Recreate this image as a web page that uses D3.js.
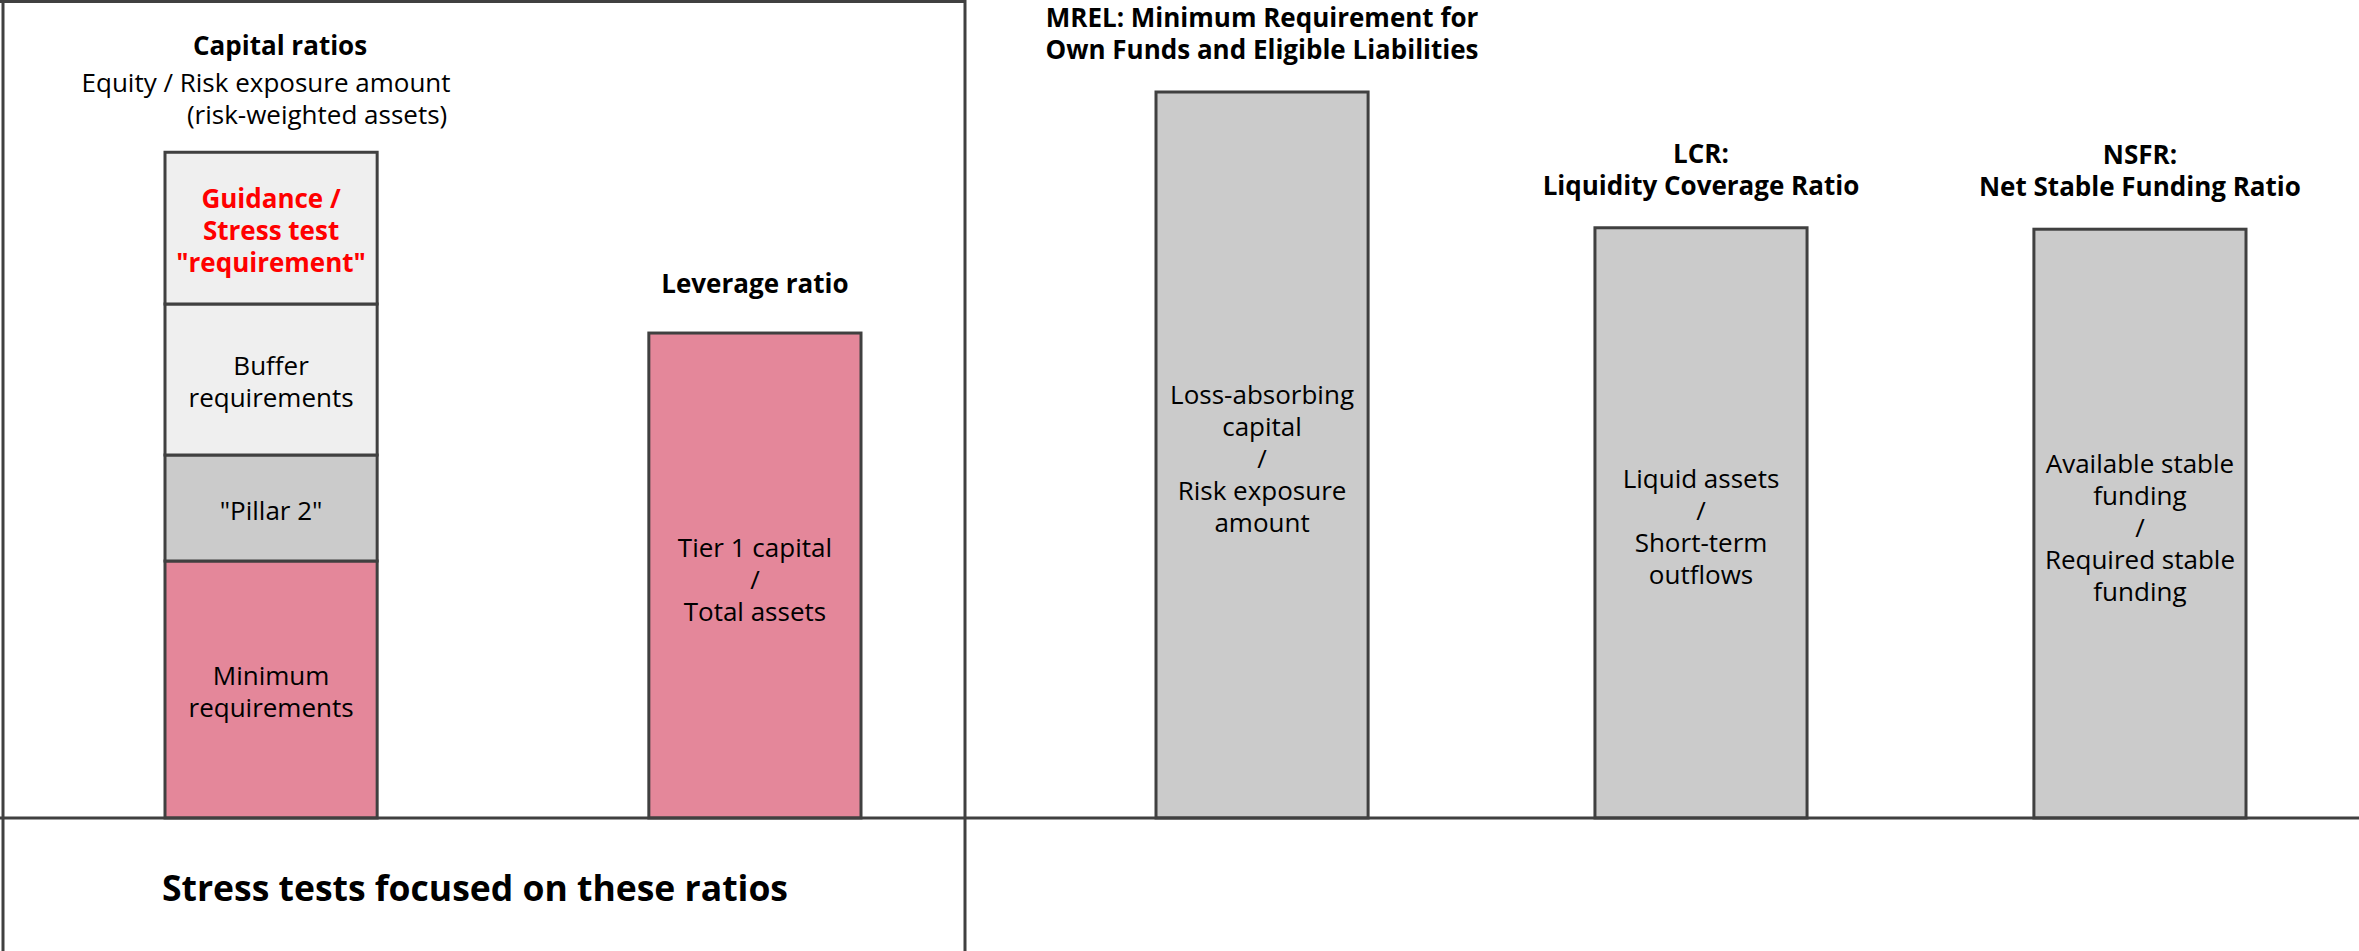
<!DOCTYPE html>
<html>
<head>
<meta charset="utf-8">
<script src="https://cdn.jsdelivr.net/npm/d3@7"></script>
<style>
  html, body { margin: 0; padding: 0; background: #fff; }
  svg { display: block; }
  text { font-family: "Open Sans", "Noto Sans", sans-serif; fill: #000; }
</style>
</head>
<body>
<svg id="chart" width="2359" height="951"></svg>
<script>
// ---- Data -------------------------------------------------------------
// Capital ratio requirement layers, stacked bottom to top (relative size)
const capitalLayers = ["Minimum requirements", "Pillar 2", "Buffer requirements", "Guidance"];
const capitalValues = [35.4, 14.6, 20.8, 20.9];
const capitalLabels = [
  ["Minimum", "requirements"],
  ["\"Pillar 2\""],
  ["Buffer", "requirements"],
  ["Guidance /", "Stress test", "\"requirement\""]
];

// Ratios in the stress-tested panel
const stressCategories = ["Capital ratios", "Leverage ratio"];
const leverageValue = 66.8;
const leverageLabel = ["Tier 1 capital", "/", "Total assets"];

// Other regulatory ratios
const otherCategories = ["MREL", "LCR", "NSFR"];
const otherValues = [100, 81.3, 81.1];
const otherLabels = [
  ["Loss-absorbing", "capital", "/", "Risk exposure", "amount"],
  ["Liquid assets", "/", "Short-term", "outflows"],
  ["Available stable", "funding", "/", "Required stable", "funding"]
];
const otherTitles = [
  ["MREL: Minimum Requirement for", "Own Funds and Eligible Liabilities"],
  ["LCR:", "Liquidity Coverage Ratio"],
  ["NSFR:", "Net Stable Funding Ratio"]
];

const capitalTitle = ["Capital ratios", "Equity / Risk exposure amount", "(risk-weighted assets)"];
const leverageTitle = "Leverage ratio";
const panelCaption = "Stress tests focused on these ratios";

// ---- Layout -----------------------------------------------------------
const W = 2359, H = 951;
const baseY = 818;
const panelX = 965;
const lineGap = 32;
const bodySize = 26;
const titleSize = 26;

const colors = {
  pink: "#e4879a",
  grey: "#cbcbcb",
  light: "#efefef",
  edge: "#404040",
  red: "#ff0000"
};
const layerFill = [colors.pink, colors.grey, colors.light, colors.light];

const svg = d3.select("#chart");

const y = d3.scaleLinear().domain([0, 100]).range([baseY, 92]);

const xLeft = d3.scaleBand().domain(stressCategories)
  .range([165, 861]).paddingInner(0.5615).paddingOuter(0);
const xRight = d3.scaleBand().domain(otherCategories)
  .range([1156, 2246]).paddingInner(0.5168).paddingOuter(0);

// multi-line centred label
function label(g, lines, cx, cy, opts = {}) {
  const n = lines.length;
  const t = g.append("text")
    .attr("text-anchor", "middle")
    .attr("font-size", opts.size || bodySize)
    .attr("font-weight", opts.weight || 400)
    .style("fill", opts.fill || "#000");
  lines.forEach((s, i) => {
    t.append("tspan")
      .attr("x", cx)
      .attr("y", cy + (i - (n - 1) / 2) * (opts.gap || lineGap))
      .attr("dominant-baseline", "central")
      .text(s);
  });
  return t;
}

// ---- Capital ratios stacked bar ---------------------------------------
const stackRow = [Object.fromEntries(capitalLayers.map((k, i) => [k, capitalValues[i]]))];
const stacked = d3.stack().keys(capitalLayers)(stackRow);

const capX = xLeft("Capital ratios");
const bw = xLeft.bandwidth();
const gCap = svg.append("g");
gCap.selectAll("rect").data(stacked).join("rect")
  .attr("x", capX)
  .attr("y", d => y(d[0][1]))
  .attr("width", bw)
  .attr("height", d => y(d[0][0]) - y(d[0][1]))
  .attr("fill", (d, i) => layerFill[i])
  .attr("stroke", colors.edge)
  .attr("stroke-width", 3);

stacked.forEach((d, i) => {
  const mid = (y(d[0][0]) + y(d[0][1])) / 2 + 2;
  const isGuide = i === 3;
  label(gCap, capitalLabels[i], capX + bw / 2, mid, {
    weight: isGuide ? 700 : 400,
    size: isGuide ? titleSize : bodySize,
    fill: isGuide ? colors.red : "#000"
  });
});

// capital ratio heading: bold title plus two-line definition
const capCx = capX + bw / 2;
label(svg, [capitalTitle[0]], capCx + 9, 45, { weight: 700, size: titleSize });
label(svg, [capitalTitle[1]], capCx - 5, 81.5);
label(svg, [capitalTitle[2]], capCx + 46, 113.5);

// ---- Leverage ratio bar -----------------------------------------------
const levX = xLeft("Leverage ratio");
svg.append("rect")
  .attr("x", levX).attr("y", y(leverageValue))
  .attr("width", bw).attr("height", y(0) - y(leverageValue))
  .attr("fill", colors.pink).attr("stroke", colors.edge).attr("stroke-width", 3);
label(svg, leverageLabel, levX + bw / 2, (y(0) + y(leverageValue)) / 2 + 3);
label(svg, [leverageTitle], levX + bw / 2, y(leverageValue) - 50, { weight: 700, size: titleSize });

// ---- Other ratio bars -------------------------------------------------
const rw = xRight.bandwidth();
const gOther = svg.append("g");
gOther.selectAll("rect").data(otherCategories).join("rect")
  .attr("x", d => xRight(d))
  .attr("y", (d, i) => y(otherValues[i]))
  .attr("width", rw)
  .attr("height", (d, i) => y(0) - y(otherValues[i]))
  .attr("fill", colors.grey)
  .attr("stroke", colors.edge)
  .attr("stroke-width", 3);

otherCategories.forEach((c, i) => {
  const cx = xRight(c) + rw / 2;
  const top = y(otherValues[i]);
  label(gOther, otherLabels[i], cx, (y(0) + top) / 2 + 3);
  label(gOther, otherTitles[i], cx, top - 59, { weight: 700, size: titleSize });
});

// ---- Frame ------------------------------------------------------------
const frame = svg.append("g")
  .attr("stroke", colors.edge).attr("stroke-width", 3).attr("fill", "none");
frame.append("line").attr("x1", 0).attr("x2", W).attr("y1", baseY).attr("y2", baseY);
frame.append("line").attr("x1", 0).attr("x2", panelX).attr("y1", 1.5).attr("y2", 1.5);
frame.append("line").attr("x1", 3).attr("x2", 3).attr("y1", 0).attr("y2", H);
frame.append("line").attr("x1", panelX).attr("x2", panelX).attr("y1", 0).attr("y2", H);

label(svg, [panelCaption], 475, 887, { weight: 700, size: 35.5 });
</script>
</body>
</html>
